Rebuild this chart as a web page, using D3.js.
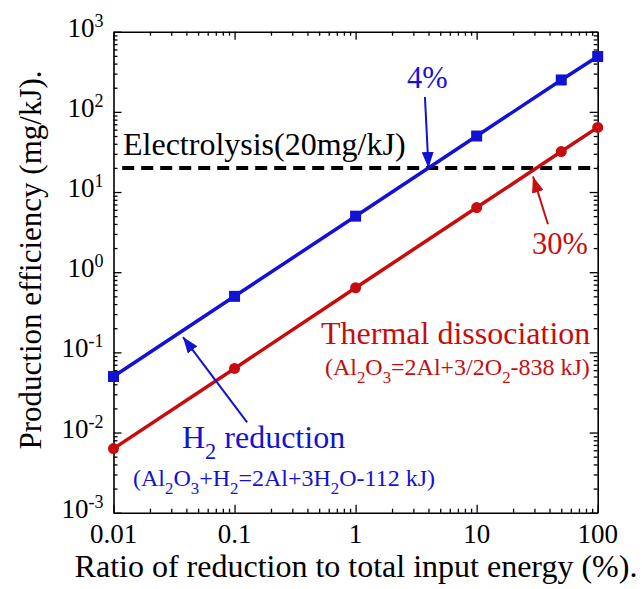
<!DOCTYPE html>
<html>
<head>
<meta charset="utf-8">
<script src="https://cdn.jsdelivr.net/npm/d3@7"></script>
<style>
  body { margin: 0; background: #fff; }
  svg text { font-family: "Liberation Serif", "Times New Roman", serif; }
</style>
</head>
<body>
<svg id="chart" width="642" height="589"></svg>
<script>
// data
const ratio = [0.01, 0.1, 1, 10, 50, 100]
const h2Reduction = [0.05, 0.5, 5, 50, 250, 490]
const thermalDissociation = [0.0063, 0.063, 0.64, 6.4, 32, 64]
const electrolysisLevel = 20
const electrolysisRange = [0.0118, 100]

const xTicks = [0.01, 0.1, 1, 10, 100]
const xTickLabels = ['0.01', '0.1', '1', '10', '100']
const yTicks = [1e-3, 1e-2, 1e-1, 1e0, 1e1, 1e2, 1e3]
const yTickExponents = ['-3', '-2', '-1', '0', '1', '2', '3']

// annotations, in data units: [x, y]
const arrows = [
  ['h2', [3.74, 153], [4, 20]],
  ['h2', [0.127, 0.0134], [0.0375, 0.155]],
  ['thermal', [38.8, 3.97], [29.2, 15.6]]
]
const notes = [
  ['black', [0.01198, 28.9], 'Electrolysis(20mg/kJ)', 32],
  ['h2', [2.66, 198], '4%', 30.5],
  ['thermal', [28.6, 1.68], '30%', 30.5],
  ['thermal', [0.518, 0.126], 'Thermal dissociation', 32],
  ['thermal', [0.558, 0.0518], '(Al_2O_3=2Al+3/2O_2-838 kJ)', 24],
  ['h2', [0.0368, 0.00635], 'H_2 reduction', 32],
  ['h2', [0.0145, 0.00213], '(Al_2O_3+H_2=2Al+3H_2O-112 kJ)', 24]
]

const colors = { h2: '#1212d4', thermal: '#c80c0c', black: '#000' }

const W = 642, H = 589
const margin = { top: 31.7, right: 44.3, bottom: 76.3, left: 113.5 }

const svg = d3.select('#chart')

const x = d3.scaleLog().domain([0.01, 100]).range([margin.left, W - margin.right])
const y = d3.scaleLog().domain([1e-3, 1e3]).range([H - margin.bottom, margin.top])

const xMinor = x.ticks().filter(t => !xTicks.some(m => Math.abs(m - t) / m < 1e-9))
const yMinor = y.ticks().filter(t => !yTicks.some(m => Math.abs(m - t) / m < 1e-9))

// draws one side of the frame: majors, minors, no labels
var drawAxis = function (axisFn, scale, translate, majors, minors) {
  var gMaj = svg.append('g').attr('transform', translate)
    .call(axisFn(scale).tickValues(majors).tickSize(-8).tickSizeOuter(0).tickFormat(''))
  svg.append('g').attr('transform', translate)
    .call(axisFn(scale).tickValues(minors).tickSize(-4).tickSizeOuter(0).tickFormat(''))
    .select('.domain').remove()
  svg.selectAll('.tick line').attr('stroke-width', 1.3)
  gMaj.select('.domain').attr('stroke-width', 1.6)
  return gMaj
}

drawAxis(d3.axisBottom, x, 'translate(0,' + y.range()[0] + ')', xTicks, xMinor)
drawAxis(d3.axisTop, x, 'translate(0,' + y.range()[1] + ')', xTicks, xMinor)
drawAxis(d3.axisLeft, y, 'translate(' + x.range()[0] + ',0)', yTicks, yMinor)
drawAxis(d3.axisRight, y, 'translate(' + x.range()[1] + ',0)', yTicks, yMinor)

// tick labels
svg.append('g').selectAll('text')
  .data(xTicks)
  .join('text')
  .attr('x', d => x(d))
  .attr('y', y.range()[0] + 30)
  .attr('text-anchor', 'middle')
  .attr('font-size', 27)
  .text((d, i) => xTickLabels[i])

var yLab = svg.append('g').selectAll('text')
  .data(yTicks)
  .join('text')
  .attr('x', x.range()[0] - 10)
  .attr('y', d => y(d) + 5)
  .attr('text-anchor', 'end')
  .attr('font-size', 27)
yLab.append('tspan').text('10')
yLab.append('tspan').attr('font-size', 18).attr('dy', -10).text((d, i) => yTickExponents[i])

// axis titles
svg.append('text')
  .attr('x', 356).attr('y', 577)
  .attr('text-anchor', 'middle')
  .attr('font-size', 32)
  .text('Ratio of reduction to total input energy (%).')

svg.append('text')
  .attr('transform', 'translate(41,260) rotate(-90)')
  .attr('text-anchor', 'middle')
  .attr('font-size', 31)
  .text('Production efficiency (mg/kJ).')

// electrolysis reference
svg.append('line')
  .attr('x1', x(electrolysisRange[0])).attr('x2', x(electrolysisRange[1]))
  .attr('y1', y(electrolysisLevel)).attr('y2', y(electrolysisLevel))
  .attr('stroke', '#000').attr('stroke-width', 4)
  .attr('stroke-dasharray', '12,7')

// series
var line = d3.line().x(d => x(d[0])).y(d => y(d[1]))
var h2 = ratio.map((r, i) => [r, h2Reduction[i]])
var th = ratio.map((r, i) => [r, thermalDissociation[i]])

svg.append('path').datum(th).attr('d', line)
  .attr('fill', 'none').attr('stroke', colors.thermal).attr('stroke-width', 3.5)
svg.append('g').selectAll('circle').data(th).join('circle')
  .attr('cx', d => x(d[0])).attr('cy', d => y(d[1])).attr('r', 5.5)
  .attr('fill', colors.thermal)

svg.append('path').datum(h2).attr('d', line)
  .attr('fill', 'none').attr('stroke', colors.h2).attr('stroke-width', 3.5)
svg.append('g').selectAll('rect').data(h2).join('rect')
  .attr('x', d => x(d[0]) - 5.5).attr('y', d => y(d[1]) - 5.5)
  .attr('width', 11).attr('height', 11)
  .attr('fill', colors.h2)

// arrows
var defs = svg.append('defs')
Object.keys(colors).forEach(k => {
  defs.append('marker')
    .attr('id', 'head-' + k)
    .attr('markerUnits', 'userSpaceOnUse')
    .attr('viewBox', '0 0 16 12')
    .attr('markerWidth', 16).attr('markerHeight', 12)
    .attr('refX', 16).attr('refY', 6)
    .attr('orient', 'auto')
    .append('path').attr('d', 'M0,0 L16,6 L0,12 Z').attr('fill', colors[k])
})

svg.append('g').selectAll('line').data(arrows).join('line')
  .attr('x1', d => x(d[1][0])).attr('y1', d => y(d[1][1]))
  .attr('x2', d => x(d[2][0])).attr('y2', d => y(d[2][1]))
  .attr('stroke', d => colors[d[0]]).attr('stroke-width', 2)
  .attr('marker-end', d => 'url(#head-' + d[0] + ')')

// labels; "_n" is a subscript digit
notes.forEach(n => {
  var size = n[3]
  var t = svg.append('text')
    .attr('x', x(n[1][0])).attr('y', y(n[1][1]))
    .attr('font-size', size)
    .attr('fill', colors[n[0]])
  var parts = n[2].split(/(_\d)/).filter(p => p !== '')
  var shifted = false
  parts.forEach(p => {
    if (p[0] === '_') {
      t.append('tspan').attr('font-size', size * 0.7).attr('dy', size * 0.33).text(p.slice(1))
      shifted = true
    } else {
      t.append('tspan').attr('dy', shifted ? -size * 0.33 : 0).text(p)
      shifted = false
    }
  })
})
</script>
</body>
</html>
